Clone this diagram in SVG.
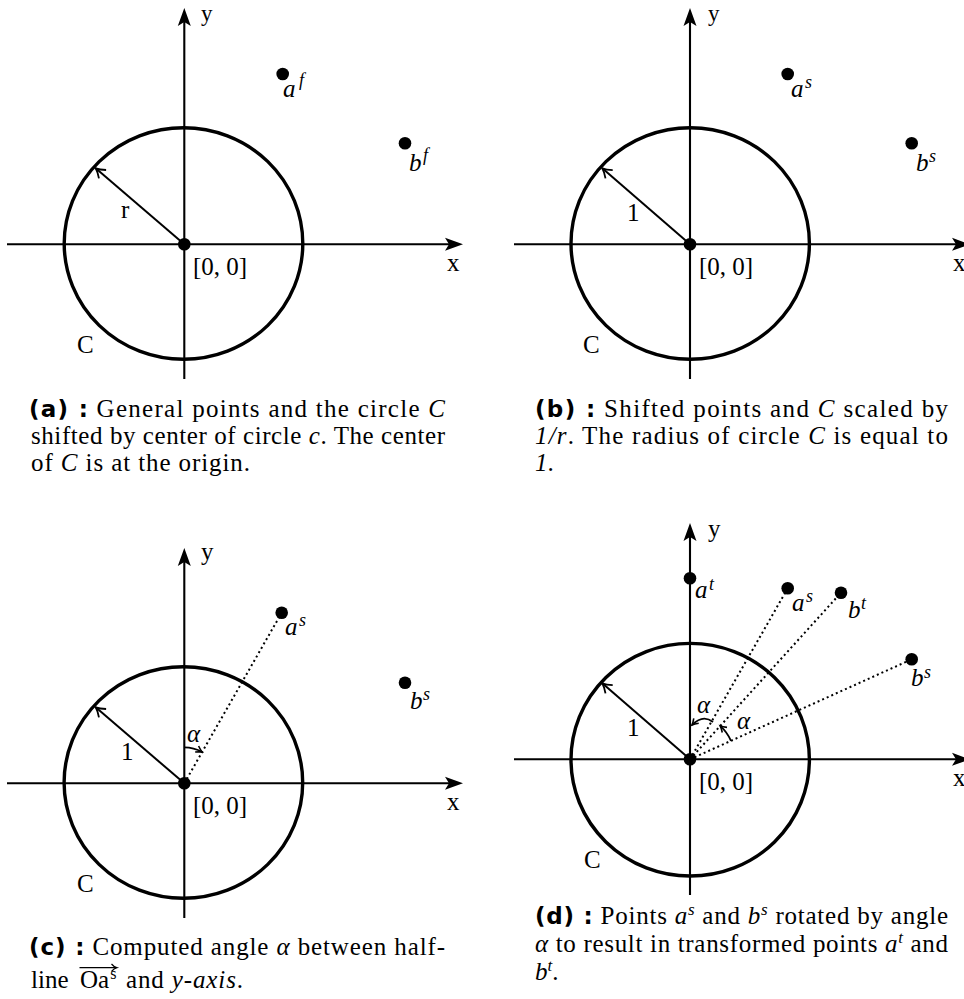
<svg xmlns="http://www.w3.org/2000/svg" width="964" height="999" viewBox="0 0 964 999">
<style>
.ax{stroke:#000;stroke-width:2.1;fill:none}
.circ{stroke:#000;stroke-width:3.4;fill:none}
.rad{stroke:#000;stroke-width:2;fill:none}
.dotl{stroke:#000;stroke-width:2;stroke-dasharray:2 3;fill:none}
.arc{stroke:#000;stroke-width:1.8;fill:none}
.dot{fill:#000}
.lbl{font-family:"Liberation Serif",serif;font-size:25px;fill:#000}
.yl{font-family:"Liberation Serif",serif;font-size:23px;fill:#000}
.it{font-style:italic}
.sup{font-family:"Liberation Serif",serif;font-size:18px;font-style:italic;fill:#000}
.cap{font-family:"Liberation Serif",serif;font-size:25px;fill:#000}
.capb{font-family:"DejaVu Sans",sans-serif;font-weight:bold;font-style:normal;font-size:23px}
.csup{font-size:17px;font-style:italic}
</style>
<defs>
<marker id="axh" markerUnits="userSpaceOnUse" markerWidth="30" markerHeight="30" viewBox="-15 -15 30 30" refX="0" refY="0" orient="auto" overflow="visible">
<path d="M 10 0 L -8 -6.5 L -4 0 L -8 6.5 Z" fill="#000"/>
</marker>
<marker id="barb" markerUnits="userSpaceOnUse" markerWidth="30" markerHeight="30" viewBox="-15 -15 30 30" refX="0" refY="0" orient="auto" overflow="visible">
<path d="M -9 -5.5 Q -4 -1.5 0 0 Q -4 1.5 -9 5.5" stroke="#000" stroke-width="1.8" fill="none"/>
</marker>
<marker id="sbarb" markerUnits="userSpaceOnUse" markerWidth="20" markerHeight="20" viewBox="-10 -10 20 20" refX="0" refY="0" orient="auto" overflow="visible">
<path d="M -6 -3.5 Q -2.5 -1 0 0 Q -2.5 1 -6 3.5" stroke="#000" stroke-width="1.6" fill="none"/>
</marker>
</defs>

<!-- Panel (a) -->
<g id="panel-a">
<g id="connectors-a">
<path class="ax" d="M 7 244.3 H 453" marker-end="url(#axh)"/>
<path class="ax" d="M 184.3 379 V 18" marker-end="url(#axh)"/>
<path class="rad" d="M 184.3 244.3 L 95.7 168.3" marker-end="url(#barb)"/>
</g>
<g id="circle-a"><ellipse class="circ" cx="183.5" cy="243.5" rx="119.3" ry="115.8"/></g>
<g id="origin-a"><circle class="dot" cx="184.3" cy="244.3" r="6.3"/><text class="lbl" x="193" y="275">[0, 0]</text></g>
<g id="point-af"><circle class="dot" cx="282.7" cy="74" r="6.3"/><text class="lbl it" x="283" y="97">a</text><text class="sup" x="299" y="86">f</text></g>
<g id="point-bf"><circle class="dot" cx="405" cy="143.3" r="6.3"/><text class="lbl it" x="409" y="171">b</text><text class="sup" x="423" y="161">f</text></g>
<text class="yl" x="201" y="21">y</text>
<text class="lbl" x="447" y="271">x</text>
<text class="lbl" x="121" y="218">r</text>
<text class="lbl" x="77" y="353">C</text>
</g>

<!-- Panel (b) -->
<g id="panel-b">
<g id="connectors-b">
<path class="ax" d="M 514 244.3 H 960" marker-end="url(#axh)"/>
<path class="ax" d="M 690 379 V 18" marker-end="url(#axh)"/>
<path class="rad" d="M 690 244.3 L 602.3 168.3" marker-end="url(#barb)"/>
</g>
<g id="circle-b"><ellipse class="circ" cx="690.2" cy="243.5" rx="119.2" ry="115.8"/></g>
<g id="origin-b"><circle class="dot" cx="690" cy="244.3" r="6.3"/><text class="lbl" x="699" y="275">[0, 0]</text></g>
<g id="point-as-b"><circle class="dot" cx="787.7" cy="74" r="6.3"/><text class="lbl it" x="791" y="97">a</text><text class="sup" x="805" y="88">s</text></g>
<g id="point-bs-b"><circle class="dot" cx="911.7" cy="143.3" r="6.3"/><text class="lbl it" x="916" y="171">b</text><text class="sup" x="929" y="162">s</text></g>
<text class="yl" x="708" y="21">y</text>
<text class="lbl" x="953" y="271">x</text>
<text class="lbl" x="627" y="221">1</text>
<text class="lbl" x="583" y="353">C</text>
</g>

<!-- Panel (c) -->
<g id="panel-c">
<g id="connectors-c">
<path class="ax" d="M 7 783.3 H 453" marker-end="url(#axh)"/>
<path class="ax" d="M 184.3 918 V 558" marker-end="url(#axh)"/>
<path class="rad" d="M 184.3 783.3 L 95.7 707.3" marker-end="url(#barb)"/>
<path class="dotl" d="M 184.3 783.3 L 281.7 612.7"/>
<path class="arc" d="M 184.3 747.3 A 36 36 0 0 1 202.1 752" marker-end="url(#sbarb)"/>
</g>
<g id="circle-c"><ellipse class="circ" cx="183.4" cy="782.5" rx="119.3" ry="115.8"/></g>
<g id="origin-c"><circle class="dot" cx="184.3" cy="783.3" r="6.3"/><text class="lbl" x="193" y="814">[0, 0]</text></g>
<g id="point-as-c"><circle class="dot" cx="281.7" cy="612.7" r="6.3"/><text class="lbl it" x="285" y="635">a</text><text class="sup" x="299" y="626">s</text></g>
<g id="point-bs-c"><circle class="dot" cx="405" cy="682.7" r="6.3"/><text class="lbl it" x="410" y="709">b</text><text class="sup" x="423" y="700">s</text></g>
<text class="lbl" x="201" y="560">y</text>
<text class="lbl" x="447" y="810">x</text>
<text class="lbl" x="121" y="760">1</text>
<text class="lbl" x="77" y="892">C</text>
<text class="lbl it" x="187" y="742" font-size="24">α</text>
</g>

<!-- Panel (d) -->
<g id="panel-d">
<g id="connectors-d">
<path class="ax" d="M 514 759.3 H 960" marker-end="url(#axh)"/>
<path class="ax" d="M 690 895 V 533" marker-end="url(#axh)"/>
<path class="rad" d="M 690 759.3 L 602.3 683.3" marker-end="url(#barb)"/>
<path class="dotl" d="M 690 759.3 L 787.7 588.3"/>
<path class="dotl" d="M 690 759.3 L 841 592.7"/>
<path class="dotl" d="M 690 759.3 L 911.7 659.3"/>
<path class="arc" d="M 713 722 Q 703 714 692 725" marker-end="url(#sbarb)"/>
<path class="arc" d="M 731 740.8 A 45 45 0 0 0 720.2 725.9" marker-end="url(#sbarb)"/>
</g>
<g id="circle-d"><ellipse class="circ" cx="690.2" cy="759.7" rx="119.2" ry="116.3"/></g>
<g id="origin-d"><circle class="dot" cx="690" cy="759.3" r="6.3"/><text class="lbl" x="699" y="790">[0, 0]</text></g>
<g id="point-at-d"><circle class="dot" cx="690" cy="578.3" r="6.3"/><text class="lbl it" x="695" y="598">a</text><text class="sup" x="709" y="590">t</text></g>
<g id="point-as-d"><circle class="dot" cx="787.7" cy="588.3" r="6.3"/><text class="lbl it" x="792" y="611">a</text><text class="sup" x="806" y="602">s</text></g>
<g id="point-bt-d"><circle class="dot" cx="841" cy="592.7" r="6.3"/><text class="lbl it" x="848" y="618">b</text><text class="sup" x="861" y="609">t</text></g>
<g id="point-bs-d"><circle class="dot" cx="911.7" cy="659.3" r="6.3"/><text class="lbl it" x="911" y="686">b</text><text class="sup" x="924" y="678">s</text></g>
<text class="lbl" x="708" y="537">y</text>
<text class="lbl" x="953" y="786">x</text>
<text class="lbl" x="627" y="736">1</text>
<text class="lbl" x="584" y="868">C</text>
<text class="lbl it" x="697" y="713" font-size="24">α</text>
<text class="lbl it" x="737" y="729" font-size="24">α</text>
</g>

<!-- Captions -->
<g id="caption-a">
<text class="cap" x="29" y="417" textLength="416" lengthAdjust="spacing"><tspan class="capb">(a) :</tspan> General points and the circle <tspan class="it">C</tspan></text>
<text class="cap" x="31" y="444" textLength="414" lengthAdjust="spacing">shifted by center of circle <tspan class="it">c</tspan>. The center</text>
<text class="cap" x="31" y="471" textLength="219" lengthAdjust="spacing">of <tspan class="it">C</tspan> is at the origin.</text>
</g>
<g id="caption-b">
<text class="cap" x="535" y="417" textLength="413" lengthAdjust="spacing"><tspan class="capb">(b) :</tspan> Shifted points and <tspan class="it">C</tspan> scaled by</text>
<text class="cap" x="535" y="444" textLength="413" lengthAdjust="spacing"><tspan class="it">1/r</tspan>. The radius of circle <tspan class="it">C</tspan> is equal to</text>
<text class="cap" x="535" y="471"><tspan class="it">1</tspan>.</text>
</g>
<g id="caption-c">
<text class="cap" x="29" y="955" textLength="416" lengthAdjust="spacing"><tspan class="capb">(c) :</tspan> Computed angle <tspan class="it">α</tspan> between half-</text>
<text class="cap" x="31" y="988">line</text>
<text class="cap" x="80" y="988">Oa<tspan dx="1" dy="-9" font-size="16">s</tspan></text>
<path d="M 79.5 967.7 H 116.5" stroke="#000" stroke-width="1.3" fill="none"/>
<path d="M 111.5 964 Q 114 967 116.8 967.7 Q 114 968.5 111.5 971.5" stroke="#000" stroke-width="1.2" fill="none"/>
<text class="cap" x="126" y="988" textLength="117" lengthAdjust="spacing">and <tspan class="it">y-axis</tspan>.</text>
</g>
<g id="caption-d">
<text class="cap" x="535" y="924" textLength="413" lengthAdjust="spacing"><tspan class="capb">(d) :</tspan> Points <tspan class="it">a</tspan><tspan class="csup" dy="-9">s</tspan><tspan dy="9"> and </tspan><tspan class="it">b</tspan><tspan class="csup" dy="-9">s</tspan><tspan dy="9"> rotated by angle</tspan></text>
<text class="cap" x="535" y="952" textLength="413" lengthAdjust="spacing"><tspan class="it">α</tspan> to result in transformed points <tspan class="it">a</tspan><tspan class="csup" dy="-9">t</tspan><tspan dy="9"> and</tspan></text>
<text class="cap" x="535" y="980"><tspan class="it">b</tspan><tspan class="csup" dy="-9">t</tspan><tspan dy="9">.</tspan></text>
</g>
</svg>
